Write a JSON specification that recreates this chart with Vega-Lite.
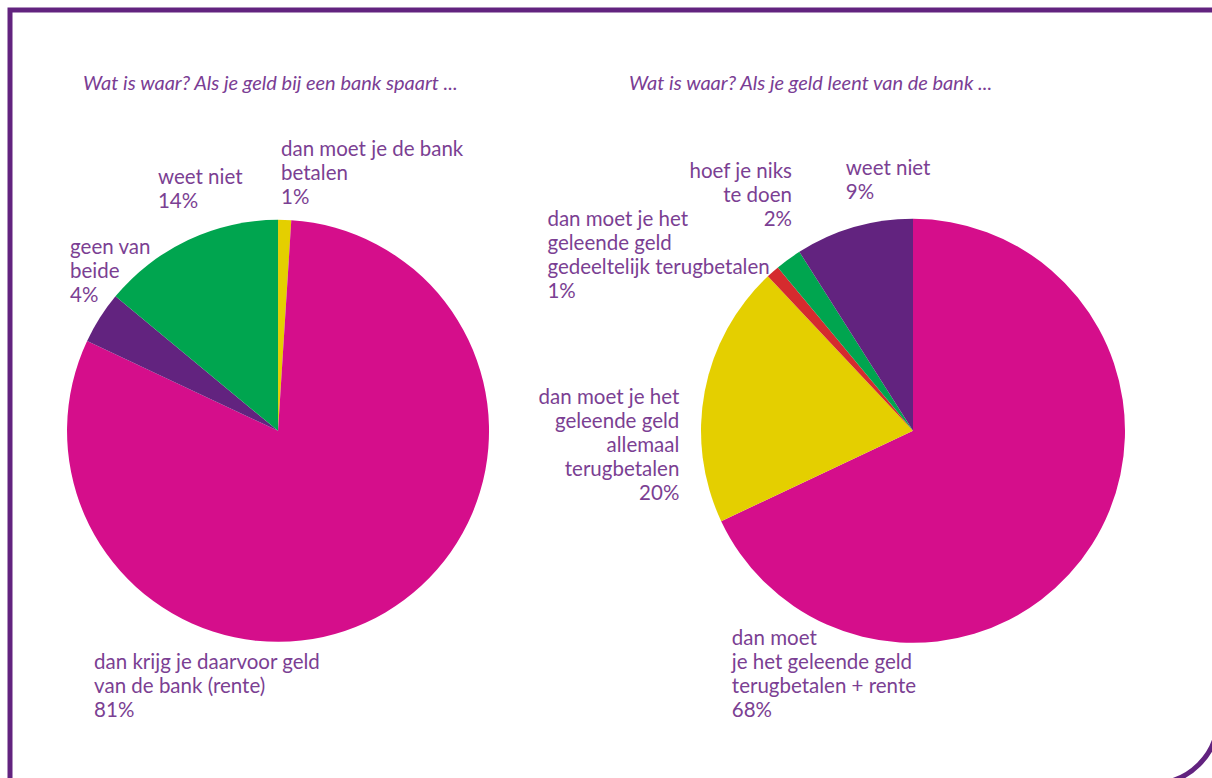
{
  "$schema": "https://vega.github.io/schema/vega-lite/v6.json",
  "width": 1202,
  "height": 768,
  "autosize": {"type": "none"},
  "padding": {"left": 10, "top": 10, "right": 0, "bottom": 0},
  "background": "white",
  "config": {"view": {"stroke": null}, "text": {"font": "Lato"}},
  "datasets": {
    "answers": [
      {"q": "spaart", "ord": 1, "answer": "dan moet je de bank betalen", "pct": 1, "label": "dan moet je de bank\nbetalen\n1%"},
      {"q": "spaart", "ord": 2, "answer": "dan krijg je daarvoor geld van de bank (rente)", "pct": 81, "label": "dan krijg je daarvoor geld\nvan de bank (rente)\n81%"},
      {"q": "spaart", "ord": 3, "answer": "geen van beide", "pct": 4, "label": "geen van\nbeide\n4%"},
      {"q": "spaart", "ord": 4, "answer": "weet niet", "pct": 14, "label": "weet niet\n14%"},
      {"q": "leent", "ord": 1, "answer": "dan moet je het geleende geld terugbetalen + rente", "pct": 68, "label": "dan moet\nje het geleende geld\nterugbetalen + rente\n68%"},
      {"q": "leent", "ord": 2, "answer": "dan moet je het geleende geld allemaal terugbetalen", "pct": 20, "label": "dan moet je het\ngeleende geld\nallemaal \nterugbetalen\n20%"},
      {"q": "leent", "ord": 3, "answer": "dan moet je het geleende geld gedeeltelijk terugbetalen", "pct": 1, "label": "dan moet je het\ngeleende geld\ngedeeltelijk terugbetalen\n1%"},
      {"q": "leent", "ord": 4, "answer": "hoef je niks te doen", "pct": 2, "label": "hoef je niks\nte doen\n2%"},
      {"q": "leent", "ord": 5, "answer": "weet niet", "pct": 9, "label": "weet niet\n9%"}
    ],
    "questions": [
      {"q": "spaart", "title": "Wat is waar? Als je geld bij een bank spaart ..."},
      {"q": "leent", "title": "Wat is waar? Als je geld leent van de bank ..."}
    ],
    "frame": [{"frame": "rand"}]
  },
  "resolve": {"scale": {"x": "independent", "y": "independent", "color": "independent"}},
  "layer": [
    {
      "data": {"name": "frame"},
      "mark": {"type": "rect", "filled": false, "stroke": "#62237f", "strokeWidth": 5, "cornerRadiusBottomRight": 65},
      "encoding": {
        "x": {"datum": 0, "type": "quantitative", "scale": {"domain": [0, 1], "nice": false, "zero": false}, "axis": null},
        "x2": {"datum": 1.005},
        "y": {"datum": 1, "type": "quantitative", "scale": {"domain": [0, 1], "nice": false, "zero": false}, "axis": null},
        "y2": {"datum": -0.0072}
      }
    },
    {
      "data": {"name": "answers"},
      "transform": [{"filter": "datum.q === 'spaart'"}],
      "mark": {"type": "arc", "outerRadius": 211},
      "encoding": {
        "x": {"field": "q", "type": "nominal", "scale": {"type": "point", "domain": ["spaart", "leent"], "padding": 0.4465, "align": 0.4727}, "axis": null},
        "y": {"datum": "pie", "type": "nominal", "scale": {"type": "point", "align": 0.548}, "axis": null},
        "theta": {"field": "pct", "type": "quantitative", "stack": true, "scale": {"domain": [0, 100]}},
        "order": {"field": "ord", "type": "quantitative"},
        "color": {"field": "answer", "type": "nominal", "legend": null,
          "scale": {"domain": ["dan moet je de bank betalen", "dan krijg je daarvoor geld van de bank (rente)", "geen van beide", "weet niet"],
                    "range": ["#e4cf00", "#d50e8b", "#62237f", "#00a54f"]}}
      }
    },
    {
      "data": {"name": "answers"},
      "transform": [{"filter": "datum.q === 'leent'"}],
      "mark": {"type": "arc", "outerRadius": 212},
      "encoding": {
        "x": {"field": "q", "type": "nominal", "scale": {"type": "point", "domain": ["spaart", "leent"], "padding": 0.4465, "align": 0.4727}, "axis": null},
        "y": {"datum": "pie", "type": "nominal", "scale": {"type": "point", "align": 0.548}, "axis": null},
        "theta": {"field": "pct", "type": "quantitative", "stack": true, "scale": {"domain": [0, 100]}},
        "order": {"field": "ord", "type": "quantitative"},
        "color": {"field": "answer", "type": "nominal", "legend": null,
          "scale": {"domain": ["dan moet je het geleende geld terugbetalen + rente", "dan moet je het geleende geld allemaal terugbetalen", "dan moet je het geleende geld gedeeltelijk terugbetalen", "hoef je niks te doen", "weet niet"],
                    "range": ["#d50e8b", "#e4cf00", "#d52b2e", "#00a54f", "#62237f"]}}
      }
    },
    {
      "data": {"name": "questions"},
      "transform": [{"filter": "datum.q === 'spaart'"}],
      "mark": {"type": "text", "align": "left", "baseline": "middle", "dx": -195, "dy": -347, "fontSize": 20, "fontStyle": "italic", "color": "#7a3d94"},
      "encoding": {
        "x": {"field": "q", "type": "nominal", "scale": {"type": "point", "domain": ["spaart", "leent"], "padding": 0.4465, "align": 0.4727}, "axis": null},
        "y": {"datum": "pie", "type": "nominal", "scale": {"type": "point", "align": 0.548}, "axis": null},
        "text": {"field": "title", "type": "nominal"}
      }
    },
    {
      "data": {"name": "questions"},
      "transform": [{"filter": "datum.q === 'leent'"}],
      "mark": {"type": "text", "align": "left", "baseline": "middle", "dx": -284, "dy": -347, "fontSize": 20, "fontStyle": "italic", "color": "#7a3d94"},
      "encoding": {
        "x": {"field": "q", "type": "nominal", "scale": {"type": "point", "domain": ["spaart", "leent"], "padding": 0.4465, "align": 0.4727}, "axis": null},
        "y": {"datum": "pie", "type": "nominal", "scale": {"type": "point", "align": 0.548}, "axis": null},
        "text": {"field": "title", "type": "nominal"}
      }
    },
    {
      "data": {"name": "answers"},
      "transform": [{"filter": "datum.q === 'spaart'"}],
      "mark": {"type": "text", "align": "left", "baseline": "middle", "radius": 281, "thetaOffset": -0.0208, "lineBreak": "\n", "fontSize": 20.5, "lineHeight": 24, "color": "#7b3f93"},
      "encoding": {
        "x": {"field": "q", "type": "nominal", "scale": {"type": "point", "domain": ["spaart", "leent"], "padding": 0.4465, "align": 0.4727}, "axis": null},
        "y": {"datum": "pie", "type": "nominal", "scale": {"type": "point", "align": 0.548}, "axis": null},
        "theta": {"field": "pct", "type": "quantitative", "stack": true, "scale": {"domain": [0, 100]}},
        "order": {"field": "ord", "type": "quantitative"},
        "detail": {"field": "answer", "type": "nominal"},
        "text": {"condition": {"test": "datum.answer === 'dan moet je de bank betalen'", "field": "label", "type": "nominal"}, "value": ""}
      }
    },
    {
      "data": {"name": "answers"},
      "transform": [{"filter": "datum.q === 'spaart'"}],
      "mark": {"type": "text", "align": "left", "baseline": "middle", "radius": 296, "thetaOffset": 1.2046, "lineBreak": "\n", "fontSize": 20.5, "lineHeight": 24, "color": "#7b3f93"},
      "encoding": {
        "x": {"field": "q", "type": "nominal", "scale": {"type": "point", "domain": ["spaart", "leent"], "padding": 0.4465, "align": 0.4727}, "axis": null},
        "y": {"datum": "pie", "type": "nominal", "scale": {"type": "point", "align": 0.548}, "axis": null},
        "theta": {"field": "pct", "type": "quantitative", "stack": true, "scale": {"domain": [0, 100]}},
        "order": {"field": "ord", "type": "quantitative"},
        "detail": {"field": "answer", "type": "nominal"},
        "text": {"condition": {"test": "datum.answer === 'dan krijg je daarvoor geld van de bank (rente)'", "field": "label", "type": "nominal"}, "value": ""}
      }
    },
    {
      "data": {"name": "answers"},
      "transform": [{"filter": "datum.q === 'spaart'"}],
      "mark": {"type": "text", "align": "left", "baseline": "middle", "radius": 277, "thetaOffset": 0.156, "lineBreak": "\n", "fontSize": 20.5, "lineHeight": 24, "color": "#7b3f93"},
      "encoding": {
        "x": {"field": "q", "type": "nominal", "scale": {"type": "point", "domain": ["spaart", "leent"], "padding": 0.4465, "align": 0.4727}, "axis": null},
        "y": {"datum": "pie", "type": "nominal", "scale": {"type": "point", "align": 0.548}, "axis": null},
        "theta": {"field": "pct", "type": "quantitative", "stack": true, "scale": {"domain": [0, 100]}},
        "order": {"field": "ord", "type": "quantitative"},
        "detail": {"field": "answer", "type": "nominal"},
        "text": {"condition": {"test": "datum.answer === 'geen van beide'", "field": "label", "type": "nominal"}, "value": ""}
      }
    },
    {
      "data": {"name": "answers"},
      "transform": [{"filter": "datum.q === 'spaart'"}],
      "mark": {"type": "text", "align": "left", "baseline": "middle", "radius": 280, "thetaOffset": -0.0035, "lineBreak": "\n", "fontSize": 20.5, "lineHeight": 24, "color": "#7b3f93"},
      "encoding": {
        "x": {"field": "q", "type": "nominal", "scale": {"type": "point", "domain": ["spaart", "leent"], "padding": 0.4465, "align": 0.4727}, "axis": null},
        "y": {"datum": "pie", "type": "nominal", "scale": {"type": "point", "align": 0.548}, "axis": null},
        "theta": {"field": "pct", "type": "quantitative", "stack": true, "scale": {"domain": [0, 100]}},
        "order": {"field": "ord", "type": "quantitative"},
        "detail": {"field": "answer", "type": "nominal"},
        "text": {"condition": {"test": "datum.answer === 'weet niet'", "field": "label", "type": "nominal"}, "value": ""}
      }
    },
    {
      "data": {"name": "answers"},
      "transform": [{"filter": "datum.q === 'leent'"}],
      "mark": {"type": "text", "align": "left", "baseline": "middle", "radius": 276, "thetaOffset": 1.7214, "lineBreak": "\n", "fontSize": 20.5, "lineHeight": 24, "color": "#7b3f93"},
      "encoding": {
        "x": {"field": "q", "type": "nominal", "scale": {"type": "point", "domain": ["spaart", "leent"], "padding": 0.4465, "align": 0.4727}, "axis": null},
        "y": {"datum": "pie", "type": "nominal", "scale": {"type": "point", "align": 0.548}, "axis": null},
        "theta": {"field": "pct", "type": "quantitative", "stack": true, "scale": {"domain": [0, 100]}},
        "order": {"field": "ord", "type": "quantitative"},
        "detail": {"field": "answer", "type": "nominal"},
        "text": {"condition": {"test": "datum.answer === 'dan moet je het geleende geld terugbetalen + rente'", "field": "label", "type": "nominal"}, "value": ""}
      }
    },
    {
      "data": {"name": "answers"},
      "transform": [{"filter": "datum.q === 'leent'"}],
      "mark": {"type": "text", "align": "right", "baseline": "middle", "radius": 236, "thetaOffset": -0.0483, "lineBreak": "\n", "fontSize": 20.5, "lineHeight": 24, "color": "#7b3f93"},
      "encoding": {
        "x": {"field": "q", "type": "nominal", "scale": {"type": "point", "domain": ["spaart", "leent"], "padding": 0.4465, "align": 0.4727}, "axis": null},
        "y": {"datum": "pie", "type": "nominal", "scale": {"type": "point", "align": 0.548}, "axis": null},
        "theta": {"field": "pct", "type": "quantitative", "stack": true, "scale": {"domain": [0, 100]}},
        "order": {"field": "ord", "type": "quantitative"},
        "detail": {"field": "answer", "type": "nominal"},
        "text": {"condition": {"test": "datum.answer === 'dan moet je het geleende geld allemaal terugbetalen'", "field": "label", "type": "nominal"}, "value": ""}
      }
    },
    {
      "data": {"name": "answers"},
      "transform": [{"filter": "datum.q === 'leent'"}],
      "mark": {"type": "text", "align": "left", "baseline": "middle", "radius": 422, "thetaOffset": -0.3253, "lineBreak": "\n", "fontSize": 20.5, "lineHeight": 24, "color": "#7b3f93"},
      "encoding": {
        "x": {"field": "q", "type": "nominal", "scale": {"type": "point", "domain": ["spaart", "leent"], "padding": 0.4465, "align": 0.4727}, "axis": null},
        "y": {"datum": "pie", "type": "nominal", "scale": {"type": "point", "align": 0.548}, "axis": null},
        "theta": {"field": "pct", "type": "quantitative", "stack": true, "scale": {"domain": [0, 100]}},
        "order": {"field": "ord", "type": "quantitative"},
        "detail": {"field": "answer", "type": "nominal"},
        "text": {"condition": {"test": "datum.answer === 'dan moet je het geleende geld gedeeltelijk terugbetalen'", "field": "label", "type": "nominal"}, "value": ""}
      }
    },
    {
      "data": {"name": "answers"},
      "transform": [{"filter": "datum.q === 'leent'"}],
      "mark": {"type": "text", "align": "right", "baseline": "middle", "radius": 286, "thetaOffset": 0.1913, "lineBreak": "\n", "fontSize": 20.5, "lineHeight": 24, "color": "#7b3f93"},
      "encoding": {
        "x": {"field": "q", "type": "nominal", "scale": {"type": "point", "domain": ["spaart", "leent"], "padding": 0.4465, "align": 0.4727}, "axis": null},
        "y": {"datum": "pie", "type": "nominal", "scale": {"type": "point", "align": 0.548}, "axis": null},
        "theta": {"field": "pct", "type": "quantitative", "stack": true, "scale": {"domain": [0, 100]}},
        "order": {"field": "ord", "type": "quantitative"},
        "detail": {"field": "answer", "type": "nominal"},
        "text": {"condition": {"test": "datum.answer === 'hoef je niks te doen'", "field": "label", "type": "nominal"}, "value": ""}
      }
    },
    {
      "data": {"name": "answers"},
      "transform": [{"filter": "datum.q === 'leent'"}],
      "mark": {"type": "text", "align": "left", "baseline": "middle", "radius": 270, "thetaOffset": 0.0314, "lineBreak": "\n", "fontSize": 20.5, "lineHeight": 24, "color": "#7b3f93"},
      "encoding": {
        "x": {"field": "q", "type": "nominal", "scale": {"type": "point", "domain": ["spaart", "leent"], "padding": 0.4465, "align": 0.4727}, "axis": null},
        "y": {"datum": "pie", "type": "nominal", "scale": {"type": "point", "align": 0.548}, "axis": null},
        "theta": {"field": "pct", "type": "quantitative", "stack": true, "scale": {"domain": [0, 100]}},
        "order": {"field": "ord", "type": "quantitative"},
        "detail": {"field": "answer", "type": "nominal"},
        "text": {"condition": {"test": "datum.answer === 'weet niet'", "field": "label", "type": "nominal"}, "value": ""}
      }
    }
  ]
}
